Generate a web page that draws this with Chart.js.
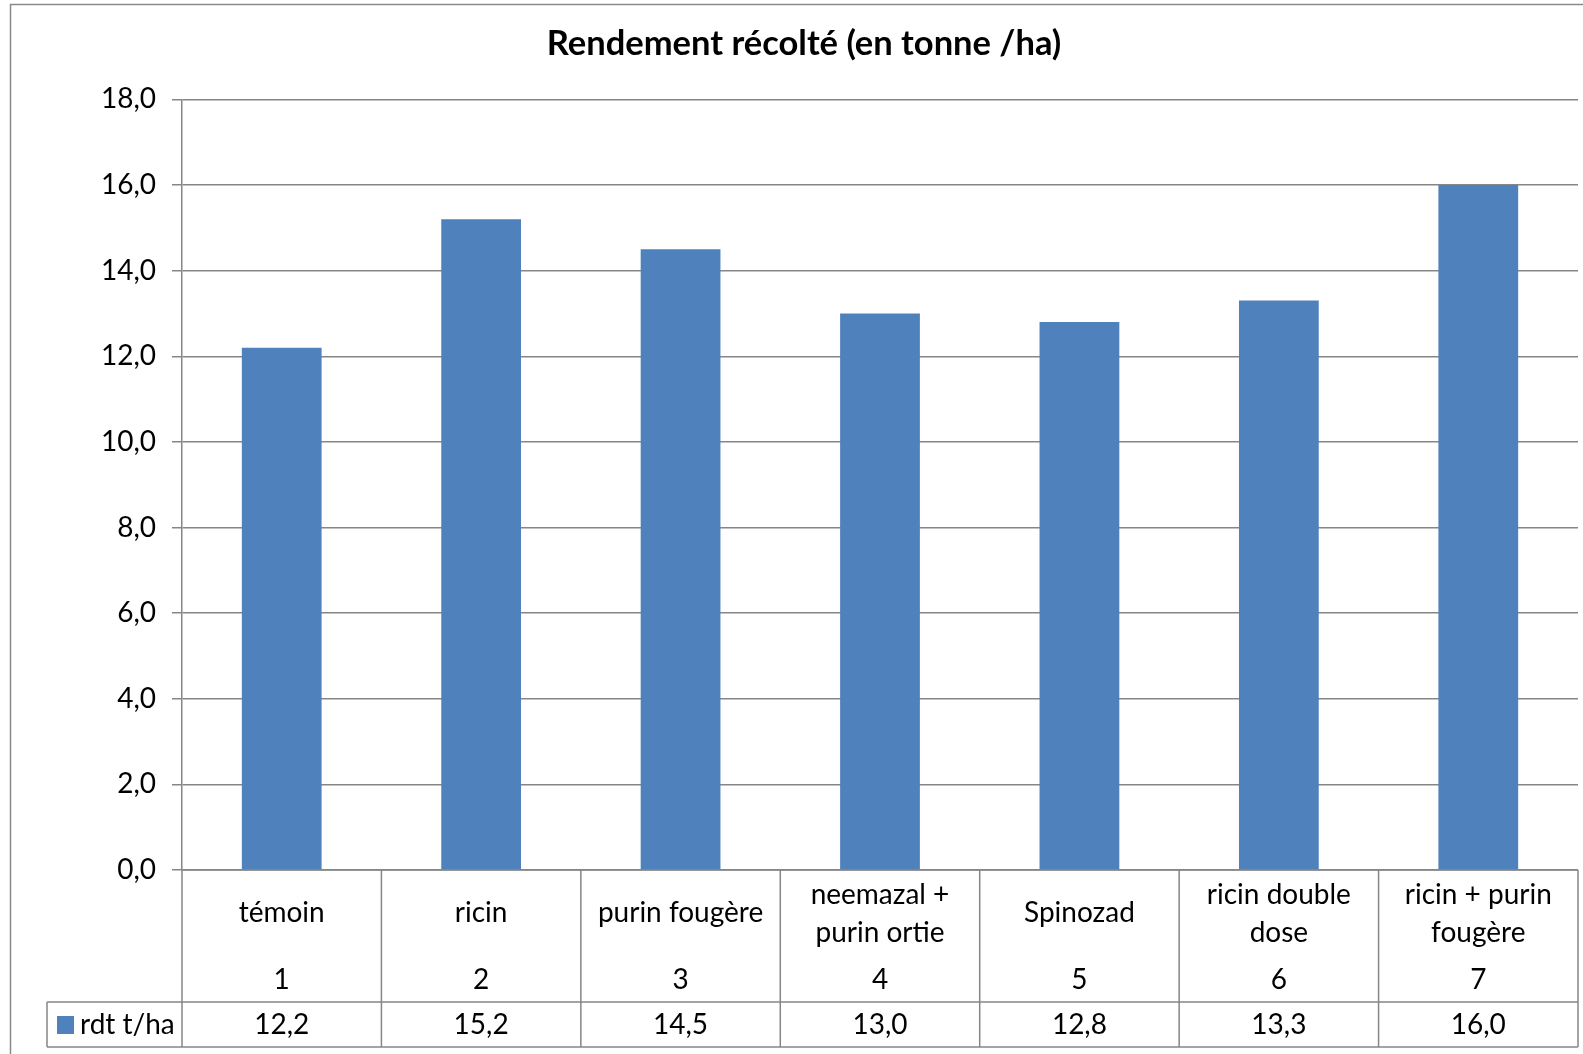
<!DOCTYPE html>
<html><head><meta charset="utf-8">
<script src="https://cdn.jsdelivr.net/npm/chart.js@4"></script>
<style>html,body{margin:0;padding:0;background:#fff}#wrap{width:1583px;height:1054px;position:relative}</style>
</head><body><div id="wrap"><canvas id="c"></canvas></div>
<script>
const categories = [['témoin'], ['ricin'], ['purin fougère'], ['neemazal +', 'purin ortie'], ['Spinozad'], ['ricin double', 'dose'], ['ricin + purin', 'fougère']];
const codes = ['1', '2', '3', '4', '5', '6', '7'];
const values = [12.2, 15.2, 14.5, 13.0, 12.8, 13.3, 16.0];
const seriesName = 'rdt t/ha';
const titleText = 'Rendement récolté (en tonne /ha)';
const yMin = 0, yMax = 18, yStep = 2;

const FONT = 'Lato, "Open Sans", sans-serif';
const GRID = '#868686';
const BAR = '#4F81BD';
const fmt = v => v.toFixed(1).replace('.', ',');

const framePlugin = {
  id: 'frame',
  beforeDraw(chart) {
    const ctx = chart.ctx;
    ctx.save();
    ctx.fillStyle = '#fff';
    ctx.fillRect(0, 0, chart.width, chart.height);
    ctx.strokeStyle = '#8a8a8a';
    ctx.lineWidth = 1.5;
    ctx.strokeRect(10.5, 4.5, chart.width + 20, chart.height + 20);
    ctx.restore();
  }
};

const tablePlugin = {
  id: 'dataTable',
  afterDraw(chart) {
    const ctx = chart.ctx;
    const ca = chart.chartArea;
    const xs = chart.scales.x;
    const n = categories.length;
    const cw = (ca.right - ca.left) / n;
    const top = ca.bottom;
    const rowSplit = top + 132;
    const bottom = rowSplit + 45;
    const legendLeft = 47;
    ctx.save();
    ctx.strokeStyle = GRID;
    ctx.lineWidth = 1.5;
    ctx.beginPath();
    ctx.moveTo(ca.left, top); ctx.lineTo(ca.right, top);
    ctx.moveTo(legendLeft, rowSplit); ctx.lineTo(ca.right, rowSplit);
    ctx.moveTo(legendLeft, bottom); ctx.lineTo(ca.right, bottom);
    ctx.moveTo(legendLeft, rowSplit); ctx.lineTo(legendLeft, bottom);
    for (let i = 0; i <= n; i++) {
      const x = ca.left + i * cw;
      ctx.moveTo(x, top); ctx.lineTo(x, bottom);
    }
    ctx.stroke();

    ctx.fillStyle = '#000';
    ctx.font = '28px ' + FONT;
    ctx.textAlign = 'center';
    ctx.textBaseline = 'middle';
    for (let i = 0; i < n; i++) {
      const cx = xs.getPixelForValue(i);
      const lines = categories[i];
      if (lines.length === 1) {
        ctx.fillText(lines[0], cx, top + 43);
      } else {
        ctx.fillText(lines[0], cx, top + 25);
        ctx.fillText(lines[1], cx, top + 63);
      }
      ctx.fillText(codes[i], cx, top + 110);
      ctx.fillText(fmt(values[i]), cx, rowSplit + 23);
    }
    // legend cell
    ctx.fillStyle = BAR;
    ctx.fillRect(legendLeft + 10, rowSplit + 14, 17, 18);
    ctx.fillStyle = '#000';
    ctx.textAlign = 'left';
    ctx.fillText(seriesName, legendLeft + 33, rowSplit + 23);
    ctx.restore();
  }
};

new Chart(document.getElementById('c'), {
  type: 'bar',
  data: {
    labels: categories.map(c => c.join(' ')),
    datasets: [{
      label: seriesName,
      data: values,
      backgroundColor: BAR,
      borderWidth: 0,
      categoryPercentage: 0.4,
      barPercentage: 1.0
    }]
  },
  options: {
    responsive: true,
    maintainAspectRatio: false,
    animation: false,
    devicePixelRatio: 1,
    layout: { padding: { left: 30, right: 5, top: 0, bottom: 0 } },
    plugins: {
      legend: { display: false },
      tooltip: { enabled: false },
      title: {
        display: true,
        text: titleText,
        color: '#000',
        font: { family: FONT, size: 34.5, weight: 'bold' },
        padding: { top: 23, bottom: 35 }
      }
    },
    scales: {
      x: {
        ticks: { display: false },
        grid: { display: false },
        border: { display: false },
        afterFit(s) { s.height = 184; }
      },
      y: {
        min: yMin, max: yMax,
        ticks: {
          stepSize: yStep,
          color: '#000',
          padding: 16,
          font: { family: FONT, size: 28 },
          callback: v => fmt(v)
        },
        grid: { color: GRID, lineWidth: 1.5, tickLength: 10 },
        border: { color: GRID, width: 1.5 },
        afterFit(s) { s.width = 152; }
      }
    }
  },
  plugins: [framePlugin, tablePlugin]
});
</script>
</body></html>
